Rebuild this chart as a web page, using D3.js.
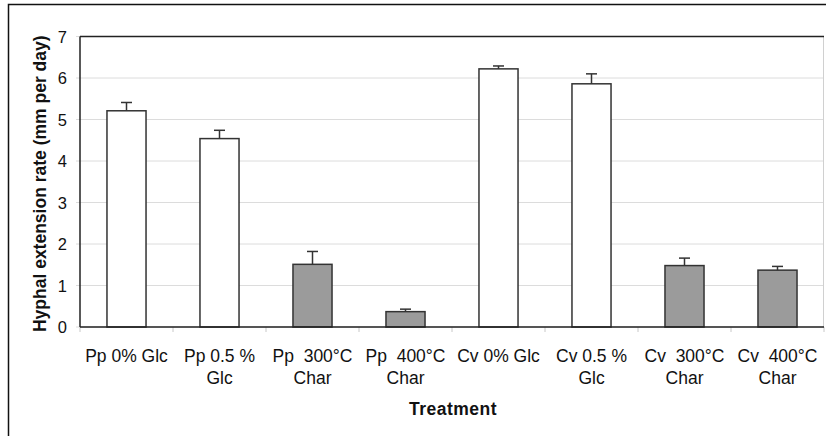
<!DOCTYPE html>
<html>
<head>
<meta charset="utf-8">
<script src="https://cdn.jsdelivr.net/npm/d3@7"></script>
<style>
  body { margin: 0; background: #fff; }
  text { font-family: "Liberation Sans", Arial, sans-serif; }
</style>
</head>
<body>
<div id="wrapper"></div>
<script>
// treatments, two label lines each
const treatments = ["Pp 0% Glc", "Pp 0.5 % Glc", "Pp 300°C Char", "Pp 400°C Char",
                    "Cv 0% Glc", "Cv 0.5 % Glc", "Cv 300°C Char", "Cv 400°C Char"];
const labelLines = [["Pp 0% Glc"], ["Pp 0.5 %", "Glc"], ["Pp  300°C", "Char"], ["Pp  400°C", "Char"],
                    ["Cv 0% Glc"], ["Cv 0.5 %", "Glc"], ["Cv  300°C", "Char"], ["Cv  400°C", "Char"]];
const rates = [5.21, 4.54, 1.51, 0.37, 6.22, 5.86, 1.48, 1.37];
const errors = [0.20, 0.20, 0.31, 0.06, 0.07, 0.24, 0.18, 0.09];
const isChar = [false, false, true, true, false, false, true, true];
const yTicks = [0, 1, 2, 3, 4, 5, 6, 7];

const width = 826, height = 436;
const margin = {top: 36.5, right: 2, bottom: 109, left: 80};

const svg = d3.select("#wrapper").append("svg")
    .attr("width", width)
    .attr("height", height);

// outer frame
svg.append("path")
    .attr("d", `M8.5,${height} L8.5,4.5 L${width},4.5`)
    .attr("fill", "none")
    .attr("stroke", "#111")
    .attr("stroke-width", 1.5);

const x = d3.scaleBand()
    .domain(treatments)
    .range([margin.left, width - margin.right])
    .paddingInner(0.58)
    .paddingOuter(0.29);

const y = d3.scaleLinear()
    .domain([0, 7])
    .range([height - margin.bottom, margin.top]);

const x0 = margin.left, x1 = width - margin.right;

// gridlines
svg.append("g")
    .selectAll("line")
    .data(yTicks)
    .enter()
    .append("line")
    .attr("x1", x0 - 4)
    .attr("x2", x1)
    .attr("y1", d => y(d))
    .attr("y2", d => y(d))
    .attr("stroke", "#dcdcdc")
    .attr("stroke-width", 1);

// right border of plot, faint
svg.append("line")
    .attr("x1", x1 - 0.5).attr("x2", x1 - 0.5)
    .attr("y1", y(7)).attr("y2", y(0))
    .attr("stroke", "#d0d0d0");

// top border
svg.append("line")
    .attr("x1", x0).attr("x2", x1)
    .attr("y1", y(7)).attr("y2", y(7))
    .attr("stroke", "#222").attr("stroke-width", 1.3);

// x ticks at category boundaries
const step = x.step();
svg.append("g")
    .selectAll("line")
    .data(d3.range(treatments.length + 1))
    .enter()
    .append("line")
    .attr("x1", i => x0 + i * step)
    .attr("x2", i => x0 + i * step)
    .attr("y1", y(0))
    .attr("y2", y(0) + 5)
    .attr("stroke", "#c8c8c8");

// bars
svg.append("g")
    .selectAll("rect")
    .data(treatments)
    .enter()
    .append("rect")
    .attr("x", d => x(d))
    .attr("width", x.bandwidth())
    .attr("y", (d, i) => y(rates[i]))
    .attr("height", (d, i) => y(0) - y(rates[i]))
    .attr("fill", (d, i) => isChar[i] ? "#9b9b9b" : "#fff")
    .attr("stroke", "#333")
    .attr("stroke-width", 1.5);

// error bars (upper only)
const eb = svg.append("g")
    .attr("stroke", "#333")
    .attr("stroke-width", 1.5);
treatments.forEach((d, i) => {
    const cx = x(d) + x.bandwidth() / 2;
    eb.append("line")
        .attr("x1", cx).attr("x2", cx)
        .attr("y1", y(rates[i])).attr("y2", y(rates[i] + errors[i]));
    eb.append("line")
        .attr("x1", cx - 5.5).attr("x2", cx + 5.5)
        .attr("y1", y(rates[i] + errors[i])).attr("y2", y(rates[i] + errors[i]));
});

// axes lines
svg.append("line")
    .attr("x1", x0).attr("x2", x0)
    .attr("y1", y(7)).attr("y2", y(0))
    .attr("stroke", "#222").attr("stroke-width", 1.5);
svg.append("line")
    .attr("x1", x0).attr("x2", x1)
    .attr("y1", y(0)).attr("y2", y(0))
    .attr("stroke", "#222").attr("stroke-width", 1.5);

// y tick labels
svg.append("g")
    .selectAll("text")
    .data(yTicks)
    .enter()
    .append("text")
    .attr("x", 67)
    .attr("y", d => y(d) + 6)
    .attr("text-anchor", "end")
    .style("font-size", "16.5px")
    .style("fill", "#111")
    .text(d => d);

// x labels
const xl = svg.append("g")
    .selectAll("text")
    .data(treatments)
    .enter()
    .append("text")
    .attr("text-anchor", "middle")
    .attr("xml:space", "preserve")
    .style("white-space", "pre")
    .style("font-size", "17.5px")
    .style("fill", "#111");
xl.each(function(d, i) {
    const t = d3.select(this);
    const cx = x(d) + x.bandwidth() / 2;
    labelLines[i].forEach((line, j) => {
        t.append("tspan")
            .attr("x", cx)
            .attr("y", 361.5 + j * 22)
            .text(line);
    });
});

// axis titles
svg.append("text")
    .attr("x", (x0 + x1) / 2 + 1)
    .attr("y", 415)
    .attr("text-anchor", "middle")
    .style("font-size", "17.5px")
    .style("font-weight", "bold")
    .style("letter-spacing", "0.5px")
    .style("fill", "#111")
    .text("Treatment");

svg.append("text")
    .attr("transform", `translate(46, ${(y(0) + y(7)) / 2 + 2}) rotate(-90)`)
    .attr("text-anchor", "middle")
    .style("font-size", "17.5px")
    .style("font-weight", "bold")
    .style("fill", "#111")
    .text("Hyphal extension rate (mm per day)");
</script>
</body>
</html>
